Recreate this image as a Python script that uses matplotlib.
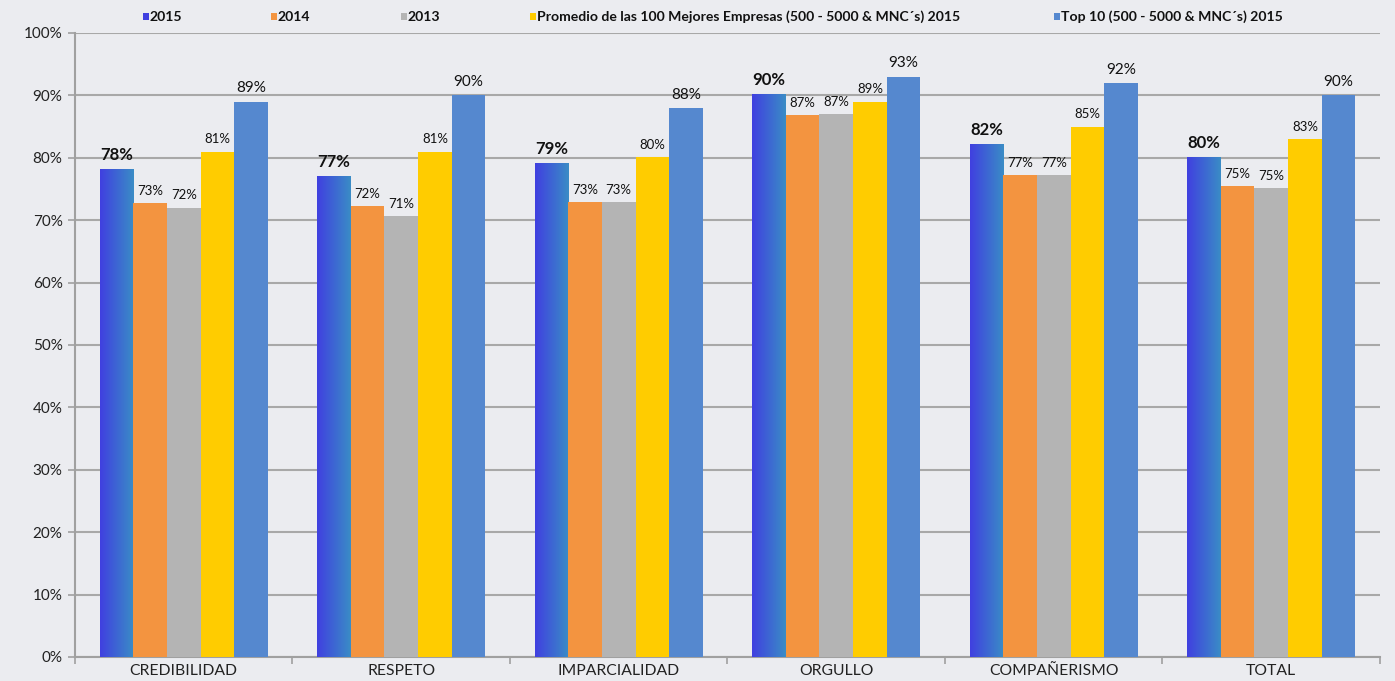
import numpy as np
import matplotlib
matplotlib.use("Agg")
import matplotlib.pyplot as plt
from matplotlib.colors import LinearSegmentedColormap
from matplotlib.patches import Rectangle

categories = ["CREDIBILIDAD", "RESPETO", "IMPARCIALIDAD", "ORGULLO", "COMPAÑERISMO", "TOTAL"]
series_names = ["2015", "2014", "2013",
                "Promedio de las 100 Mejores Empresas (500 - 5000 & MNC´s) 2015",
                "Top 10 (500 - 5000 & MNC´s) 2015"]
v2015 = [78.2, 77.1, 79.2, 90.2, 82.2, 80.1]
v2014 = [72.7, 72.2, 72.9, 86.8, 77.2, 75.5]
v2013 = [72.0, 70.7, 72.9, 87.0, 77.2, 75.2]
vprom = [81.0, 81.0, 80.1, 89.0, 85.0, 83.0]
vtop = [89.0, 90.0, 88.0, 93.0, 92.0, 90.0]
labels2015 = ["78%", "77%", "79%", "90%", "82%", "80%"]
labels2014 = ["73%", "72%", "73%", "87%", "77%", "75%"]
labels2013 = ["72%", "71%", "73%", "87%", "77%", "75%"]
labelsprom = ["81%", "81%", "80%", "89%", "85%", "83%"]
labelstop = ["89%", "90%", "88%", "93%", "92%", "90%"]

colors = ["#4040E0", "#F39440", "#B4B4B4", "#FFCC00", "#5588CF"]
bg = "#EBECF0"
plt.rcParams['font.family'] = ['Lato', 'DejaVu Sans']

W, H = 1395, 681
fig = plt.figure(figsize=(W / 100, H / 100), dpi=100, facecolor=bg)
ax = fig.add_axes([75 / W, 24 / H, (1380 - 75) / W, (657 - 33) / H])
ax.set_facecolor(bg)

x = np.arange(len(categories))
bw = 0.1546
offsets = (np.arange(5) - 2) * bw
data = [v2015, v2014, v2013, vprom, vtop]
labs = [labels2015, labels2014, labels2013, labelsprom, labelstop]

ax.set_axisbelow(True)
ax.yaxis.grid(True, color="#A8A8A8", linewidth=1.5)
ax.set_xlim(-0.5, len(categories) - 0.5)
ax.set_ylim(0, 100)

grad_cmap = LinearSegmentedColormap.from_list("g", ["#4040E0", "#3A8CC6"])
for i, (vals, c) in enumerate(zip(data, colors)):
    if i == 0:
        bars = ax.bar(x + offsets[i], vals, bw, color="none", linewidth=0, zorder=3)
        for b in bars:
            x0 = b.get_x()
            im = ax.imshow(np.linspace(0, 1, 64).reshape(1, -1), cmap=grad_cmap,
                           extent=[x0, x0 + b.get_width(), 0, b.get_height()],
                           aspect="auto", zorder=3, interpolation="bilinear")
            im.set_clip_path(b)
    else:
        ax.bar(x + offsets[i], vals, bw, color=c, linewidth=0, zorder=3)

ax.set_xlim(-0.5, len(categories) - 0.5)
ax.set_ylim(0, 100)
ax.set_aspect("auto")

styles = [dict(fontsize=12, fontweight="bold", off=1.0),
          dict(fontsize=9.5, fontweight="normal", off=1.0),
          dict(fontsize=9.5, fontweight="normal", off=1.0),
          dict(fontsize=9.5, fontweight="normal", off=1.0),
          dict(fontsize=11, fontweight="normal", off=1.0)]
for i, (vals, ls) in enumerate(zip(data, labs)):
    st = styles[i]
    for j, (v, l) in enumerate(zip(vals, ls)):
        ax.text(x[j] + offsets[i], v + st["off"], l, ha="center", va="bottom",
                fontsize=st["fontsize"], fontweight=st["fontweight"], color="#111111", zorder=5)

ax.set_yticks(np.arange(0, 101, 10))
ax.set_yticklabels([f"{t}%" for t in range(0, 101, 10)], fontsize=11, color="#222222")
ax.set_xticks(x)
ax.set_xticklabels(categories, fontsize=11.3, color="#222222")
ax.tick_params(axis="x", length=0, pad=5)
ax.set_xticks(np.arange(-0.5, len(categories) + 0.5, 1), minor=True)
ax.tick_params(axis="x", which="minor", length=5, color="#A0A0A0", width=1.2)
ax.tick_params(axis="y", length=5, color="#A0A0A0", width=1.2, pad=4)
for s in ["top", "right"]:
    ax.spines[s].set_visible(False)
for s in ["left", "bottom"]:
    ax.spines[s].set_color("#A0A0A0")
    ax.spines[s].set_linewidth(1.5)

# legend (manual placement to match reference spacing)
leg_x = [143, 271, 401, 530, 1054]
leg_y = 17
for k, (name, c) in enumerate(zip(series_names, colors)):
    fig.patches.append(Rectangle(((leg_x[k]) / W, 1 - (leg_y + 3) / H), 6 / W, 7 / H,
                                 transform=fig.transFigure, facecolor=c, edgecolor="none"))
    fig.text((leg_x[k] + 7) / W, 1 - leg_y / H, name, fontsize=10.1, fontweight="bold",
             va="center", ha="left", color="#111111")

fig.savefig("out.png", dpi=100, facecolor=bg)
